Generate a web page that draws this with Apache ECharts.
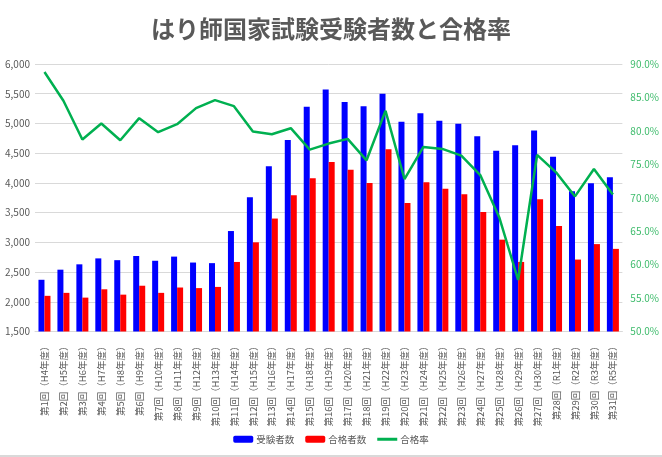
<!DOCTYPE html>
<html><head><meta charset="utf-8">
<script src="https://cdn.jsdelivr.net/npm/echarts@6/dist/echarts.min.js"></script>
<style>html,body{margin:0;padding:0;background:#fff}#c{width:662px;height:457px}</style>
</head><body><div id="c"></div>
<script>
var categories = ["第1回（H4年度）","第2回（H5年度）","第3回（H6年度）","第4回（H7年度）","第5回（H8年度）","第6回（H9年度）","第7回（H10年度）","第8回（H11年度）","第9回（H12年度）","第10回（H13年度）","第11回（H14年度）","第12回（H15年度）","第13回（H16年度）","第14回（H17年度）","第15回（H18年度）","第16回（H19年度）","第17回（H20年度）","第18回（H21年度）","第19回（H22年度）","第20回（H23年度）","第21回（H24年度）","第22回（H25年度）","第23回（H26年度）","第24回（H27年度）","第25回（H28年度）","第26回（H29年度）","第27回（H30年度）","第28回（R1年度）","第29回（R2年度）","第30回（R3年度）","第31回（R5年度）"];
var examinees = [2370,2540,2630,2730,2700,2770,2690,2760,2660,2650,3190,3760,4280,4720,5280,5570,5360,5290,5500,5030,5170,5045,4995,4785,4540,4635,4880,4440,3860,3995,4095];
var passers = [2100,2150,2070,2210,2120,2270,2150,2240,2230,2250,2670,3000,3400,3790,4080,4350,4220,4000,4565,3660,4010,3900,3810,3510,3045,2670,3725,3275,2710,2970,2890];
var passRate = [88.8,84.5,78.7,81.1,78.6,81.9,79.8,81.0,83.4,84.6,83.7,79.9,79.5,80.4,77.2,78.1,78.8,75.6,83.0,72.8,77.6,77.3,76.3,73.4,67.1,57.7,76.4,73.8,70.2,74.3,70.5];
var leftTicks = {min:1500, max:6000, interval:500};
var rightTicks = {min:50, max:90, interval:5};

var chart = echarts.init(document.getElementById('c'));
var font = '"Noto Sans CJK JP","Noto Sans",sans-serif';
chart.setOption({
  backgroundColor:'#fff',
  textStyle:{fontFamily:font},
  title:{text:'はり師国家試験受験者数と合格率',left:'center',top:12,
    textStyle:{fontSize:24,fontWeight:'bold',color:'#595959',fontFamily:font}},
  legend:{bottom:8,left:'center',itemWidth:20,itemHeight:7,itemGap:11,
    textStyle:{color:'#595959',fontSize:9.5,fontFamily:font,padding:[0,0,0,-2]},
    data:['受験者数','合格者数',{name:'合格率',icon:'path://M0,0L20,0L20,3L0,3Z'}]},
  grid:{left:35,right:38,top:64,bottom:125.5,containLabel:false},
  xAxis:{type:'category',data:categories,
    axisLine:{lineStyle:{color:'#d9d9d9'}},axisTick:{show:false},
    axisLabel:{rotate:90,interval:0,fontSize:9.5,color:'#595959',margin:10,fontFamily:font}},
  yAxis:[
    {type:'value',min:leftTicks.min,max:leftTicks.max,interval:leftTicks.interval,
     axisLine:{show:false},axisTick:{show:false},
     splitLine:{lineStyle:{color:'#d9d9d9'}},
     axisLabel:{color:'#595959',fontSize:10,margin:5,
       formatter:function(v){return v.toLocaleString('en-US');}}},
    {type:'value',min:rightTicks.min,max:rightTicks.max,interval:rightTicks.interval,
     axisLine:{show:false},axisTick:{show:false},splitLine:{show:false},
     axisLabel:{color:'#3dbb6b',fontSize:10,margin:8,
       formatter:function(v){return v.toFixed(1)+'%';}}}
  ],
  graphic:[{type:'rect',left:0,bottom:0,shape:{width:662,height:2},style:{fill:'#d9d9d9'},silent:true}],
  series:[
    {name:'受験者数',type:'bar',data:examinees,barWidth:6,barGap:'0%',
     itemStyle:{color:'#0000ff'}},
    {name:'合格者数',type:'bar',data:passers,barWidth:6,barGap:'0%',
     itemStyle:{color:'#ff0000'}},
    {name:'合格率',type:'line',yAxisIndex:1,data:passRate,symbol:'none',
     lineStyle:{color:'#00b050',width:2.5},itemStyle:{color:'#00b050'}}
  ]
});
</script></body></html>
